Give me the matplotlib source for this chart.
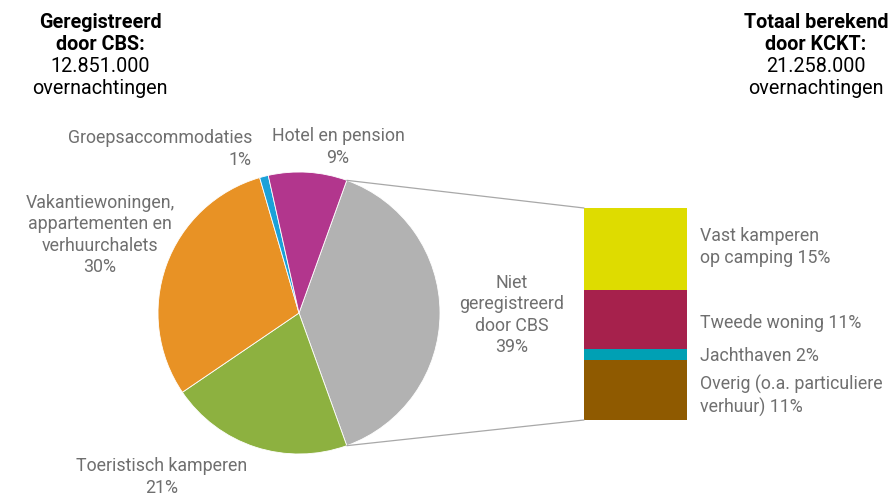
import matplotlib
matplotlib.use('Agg')
import matplotlib.pyplot as plt
from matplotlib.patches import ConnectionPatch
import numpy as np

# pie: overnachtingen by accommodation type (share of total, %)
pie_labels = ['Niet\ngeregistreerd\ndoor CBS\n39%', 'Toeristisch kamperen\n21%',
              'Vakantiewoningen,\nappartementen en\nverhuurchalets\n30%',
              'Groepsaccommodaties\n1%', 'Hotel en pension\n9%']
pie_values = [39, 21, 30, 1, 9]
pie_colors = ['#B2B2B2', '#8DB140', '#E89225', '#1BA1D8', '#B2368D']

# breakdown of the not-registered part, bottom to top
bar_labels = ['Overig (o.a. particuliere\nverhuur) 11%', 'Jachthaven 2%',
              'Tweede woning 11%', 'Vast kamperen\nop camping 15%']
bar_values = [11, 2, 11, 15]
bar_colors = ['#8F5A00', '#00A0B4', '#A6214C', '#DEDC00']

# header texts
left_head = ['Geregistreerd', 'door CBS:', '12.851.000', 'overnachtingen']
right_head = ['Totaal berekend', 'door KCKT:', '21.258.000', 'overnachtingen']

W, H = 894, 496
plt.rcParams['font.family'] = ['Roboto', 'DejaVu Sans']
TXT = '#6F6F6F'
FS = 12.8
LS = 1.26

fig = plt.figure(figsize=(W / 100, H / 100), dpi=100)
ax = fig.add_axes([0, 0, 1, 1])

def py(y):
    # pixel row (from top) to data y
    return H - y

wedges, _ = ax.pie(pie_values, colors=pie_colors, startangle=39 / 100 * 180,
                   counterclock=False, center=(299, py(313)), radius=141,
                   wedgeprops=dict(linewidth=0.6, edgecolor='white'))
ax.set_xlim(0, W)
ax.set_ylim(0, H)
ax.set_aspect('equal')
ax.axis('off')

# pie labels
lab_pos = [(512, 315), (162, 477), (100, 235), (160, 149), (338, 147)]
for i, (txt, (x, y)) in enumerate(zip(pie_labels, lab_pos)):
    t = ax.text(x, py(y), txt, ha='center', va='center', fontsize=FS, color=TXT,
                linespacing=LS)
    if i == 3:
        # Groepsaccommodaties is right aligned
        t.set_ha('right')
        t.set_x(252)
        t.set_multialignment('right')

# stacked bar
bx = fig.add_axes([584 / W, (H - 420) / H, 103 / W, 212 / H])
bottom = 0
for v, c in zip(bar_values, bar_colors):
    bx.bar(0, v, bottom=bottom, width=1, color=c, linewidth=0)
    bottom += v
bx.set_xlim(-0.5, 0.5)
bx.set_ylim(0, bottom)
bx.axis('off')

bar_lab_y = [396, 356, 323, 247]
for txt, y in zip(bar_labels, bar_lab_y):
    ax.text(700, py(y), txt, ha='left', va='center', fontsize=FS, color=TXT,
            linespacing=LS)

# connector lines from the grey wedge to the bar
g = wedges[0]
cx, cy = g.center
for ang, yb in [(max(g.theta1, g.theta2), bottom), (min(g.theta1, g.theta2), 0)]:
    xa = cx + g.r * np.cos(np.radians(ang))
    ya = cy + g.r * np.sin(np.radians(ang))
    con = ConnectionPatch(xyA=(xa, ya), coordsA=ax.transData,
                          xyB=(-0.5, yb), coordsB=bx.transData,
                          color='#A8A8A8', linewidth=0.9)
    fig.add_artist(con)

# headers
head_y = [22, 44, 66, 88]
for xc, lines in [(100, left_head), (816, right_head)]:
    for i, (s, y) in enumerate(zip(lines, head_y)):
        ax.text(xc, py(y), s, ha='center', va='center', fontsize=14.2,
                fontweight='bold' if i < 2 else 'normal', color='black')

fig.savefig('out.png', dpi=100)
